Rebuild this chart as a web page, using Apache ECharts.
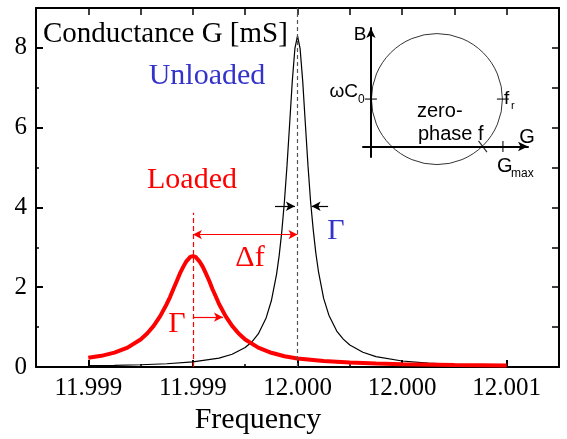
<!DOCTYPE html>
<html>
<head>
<meta charset="utf-8">
<script src="https://cdn.jsdelivr.net/npm/echarts@6/dist/echarts.min.js"></script>
<style>
html, body { margin: 0; padding: 0; background: #fff; }
#chart { width: 567px; height: 439px; }
</style>
</head>
<body>
<div id="chart"></div>
<script>
// axis ticks
const majorFreqTicks = [11.9990, 11.9994, 11.9998, 12.0002, 12.0006];
const minorFreqTicks = [11.9992, 11.9996, 12.0000, 12.0004];
const majorGTicks = [0, 2, 4, 6, 8];
const minorGTicks = [1, 3, 5, 7];
const allGTicks = [1, 2, 3, 4, 5, 6, 7, 8];

// unloaded resonance (thin black)
const unloadedFreq = [11.9990, 11.9991, 11.9992, 11.9993, 11.9994, 11.9995, 11.99955, 11.9996, 11.999625,
    11.99965, 11.99968, 11.9997, 11.99972, 11.99973, 11.99974, 11.99975, 11.99976, 11.99977, 11.99978,
    11.99979, 11.9998, 11.99981, 11.99982, 11.99983, 11.99984, 11.99985, 11.99986, 11.99987, 11.99988,
    11.9999, 11.99992, 11.99995, 11.999975, 12.0000, 12.00005, 12.0001, 12.0002, 12.0003, 12.0004, 12.0005, 12.0006];
const unloadedG = [0.032, 0.042, 0.057, 0.082, 0.128, 0.224, 0.319, 0.488, 0.626,
    0.83, 1.23, 1.66, 2.33, 2.80, 3.40, 4.15, 5.06, 6.10, 7.16,
    7.98, 8.30, 7.98, 7.16, 6.10, 5.06, 4.15, 3.45, 2.86, 2.40,
    1.72, 1.30, 0.90, 0.70, 0.55, 0.37, 0.26, 0.15, 0.095, 0.065, 0.048, 0.037];

// loaded resonance (thick red)
const loadedFreq = [11.9990, 11.99905, 11.9991, 11.99915, 11.9992, 11.999225, 11.99925, 11.999275, 11.9993,
    11.999313, 11.999325, 11.999338, 11.99935, 11.999363, 11.999375, 11.99939, 11.9994, 11.99941, 11.999425,
    11.999438, 11.99945, 11.999463, 11.999475, 11.999488, 11.9995, 11.999525, 11.99955, 11.999575, 11.9996,
    11.99965, 11.9997, 11.99975, 11.9998, 11.9999, 12.0000, 12.0001, 12.0002, 12.0004, 12.0006];
const loadedG = [0.23, 0.28, 0.36, 0.485, 0.69, 0.84, 1.03, 1.275, 1.58,
    1.76, 1.95, 2.15, 2.34, 2.51, 2.65, 2.76, 2.78, 2.76, 2.65,
    2.51, 2.34, 2.15, 1.95, 1.76, 1.58, 1.275, 1.03, 0.84, 0.69,
    0.485, 0.356, 0.271, 0.215, 0.15, 0.11, 0.085, 0.07, 0.05, 0.04];

// annotation positions in data units
const unloadedPeak = 11.9998;
const loadedPeak = 11.9994;
const loadedMarkTop = 3.87;
const deltaFLevel = 3.32;
const loadedGammaLevel = 1.25;
const loadedGammaEnd = 11.999515;
const unloadedGammaLevel = 4.03;
const unloadedGammaLeft = [11.999714, 11.99979];
const unloadedGammaRight = [11.999917, 11.999854];

// inset: admittance circle
const insetCenter = [0.5, 0.36];
const omegaC0 = 0.36;
const gMax = 1.0;
const zeroPhaseG = 0.847;

const serif = '"Liberation Serif", "Times New Roman", serif';
const sans = '"Liberation Sans", Arial, sans-serif';
const red = '#ff0000';
const blue = '#3333cc';

const chart = echarts.init(document.getElementById('chart'));

const frameLine = { show: true, onZero: false, lineStyle: { color: '#000', width: 2 } };

const option = {
    animation: false,
    grid: [
        { left: 36, right: 8, top: 8, bottom: 72 },
        { left: 363, right: 39, top: 28, bottom: 282 }
    ],
    xAxis: [
        {
            gridIndex: 0, type: 'value', position: 'bottom', min: 11.9988, max: 12.0008,
            axisLine: frameLine,
            axisTick: { inside: true, length: 7, customValues: majorFreqTicks, lineStyle: { color: '#000', width: 2 } },
            axisLabel: {
                customValues: majorFreqTicks, margin: 9, color: '#000', fontFamily: serif, fontSize: 25,
                formatter: function (v) { return v.toFixed(3); }
            },
            splitLine: { show: false }
        },
        {
            gridIndex: 0, type: 'value', position: 'bottom', min: 11.9988, max: 12.0008,
            axisLine: { show: false },
            axisTick: { inside: true, length: 3, customValues: minorFreqTicks, lineStyle: { color: '#000', width: 1.5 } },
            axisLabel: { show: false },
            splitLine: { show: false }
        },
        {
            gridIndex: 0, type: 'value', position: 'top', min: 11.9988, max: 12.0008,
            axisLine: frameLine,
            axisTick: { inside: true, length: 7, customValues: majorFreqTicks.concat(minorFreqTicks), lineStyle: { color: '#000', width: 1.5 } },
            axisLabel: { show: false },
            splitLine: { show: false }
        },
        {
            gridIndex: 1, type: 'value', min: -0.06, max: 1.19,
            axisLine: { show: true, onZero: true, symbol: ['none', 'arrow'], symbolSize: [7, 10], lineStyle: { color: '#000', width: 2 } },
            axisTick: { show: false }, axisLabel: { show: false }, splitLine: { show: false }
        }
    ],
    yAxis: [
        {
            gridIndex: 0, type: 'value', position: 'left', min: 0, max: 9,
            axisLine: frameLine,
            axisTick: { inside: true, length: 7, customValues: majorGTicks, lineStyle: { color: '#000', width: 2 } },
            axisLabel: { customValues: majorGTicks, margin: 9, color: '#000', fontFamily: serif, fontSize: 25 },
            splitLine: { show: false }
        },
        {
            gridIndex: 0, type: 'value', position: 'left', min: 0, max: 9,
            axisLine: { show: false },
            axisTick: { inside: true, length: 3, customValues: minorGTicks, lineStyle: { color: '#000', width: 1.5 } },
            axisLabel: { show: false },
            splitLine: { show: false }
        },
        {
            gridIndex: 0, type: 'value', position: 'right', min: 0, max: 9,
            axisLine: frameLine,
            axisTick: { inside: true, length: 7, customValues: allGTicks, lineStyle: { color: '#000', width: 1.5 } },
            axisLabel: { show: false },
            splitLine: { show: false }
        },
        {
            gridIndex: 1, type: 'value', min: -0.08, max: 0.9,
            axisLine: { show: true, onZero: true, symbol: ['none', 'arrow'], symbolSize: [7, 10], lineStyle: { color: '#000', width: 2 } },
            axisTick: { show: false }, axisLabel: { show: false }, splitLine: { show: false }
        }
    ],
    series: [
        {
            name: 'Unloaded', type: 'line', xAxisIndex: 0, yAxisIndex: 0,
            data: unloadedFreq.map((f, i) => [f, unloadedG[i]]),
            showSymbol: false, clip: false,
            lineStyle: { color: '#000', width: 1.2 },
            markLine: {
                silent: true, symbol: 'none', symbolSize: [7, 9], label: { show: false },
                data: [
                    [
                        { coord: [unloadedPeak, 0], lineStyle: { color: '#555', width: 1.2, type: [4, 3] } },
                        { coord: [unloadedPeak, 9] }
                    ],
                    [
                        { coord: [unloadedGammaLeft[0], unloadedGammaLevel], symbol: 'none', lineStyle: { color: '#000', width: 1.2, type: 'solid' } },
                        { coord: [unloadedGammaLeft[1], unloadedGammaLevel], symbol: 'arrow' }
                    ],
                    [
                        { coord: [unloadedGammaRight[0], unloadedGammaLevel], symbol: 'none', lineStyle: { color: '#000', width: 1.2, type: 'solid' } },
                        { coord: [unloadedGammaRight[1], unloadedGammaLevel], symbol: 'arrow' }
                    ]
                ]
            }
        },
        {
            name: 'Loaded', type: 'line', xAxisIndex: 0, yAxisIndex: 0,
            data: loadedFreq.map((f, i) => [f, loadedG[i]]),
            showSymbol: false, clip: false, z: 3,
            lineStyle: { color: red, width: 4 },
            markLine: {
                silent: true, symbol: 'none', symbolSize: [7, 9], label: { show: false },
                data: [
                    [
                        { coord: [loadedPeak, 0], lineStyle: { color: red, width: 1.2, type: [5, 3] } },
                        { coord: [loadedPeak, loadedMarkTop] }
                    ],
                    [
                        { coord: [loadedPeak, deltaFLevel], symbol: 'arrow', lineStyle: { color: red, width: 1.2, type: 'solid' } },
                        { coord: [unloadedPeak, deltaFLevel], symbol: 'arrow' }
                    ],
                    [
                        { coord: [loadedPeak, loadedGammaLevel], symbol: 'none', lineStyle: { color: red, width: 1.2, type: 'solid' } },
                        { coord: [loadedGammaEnd, loadedGammaLevel], symbol: 'arrow' }
                    ]
                ]
            }
        },
        {
            type: 'scatter', xAxisIndex: 3, yAxisIndex: 3, silent: true,
            data: [insetCenter], symbol: 'circle', symbolSize: 131,
            itemStyle: { color: 'rgba(0,0,0,0)', borderColor: '#000', borderWidth: 1 }
        },
        {
            type: 'scatter', xAxisIndex: 3, yAxisIndex: 3, silent: true,
            data: [
                { value: [0, omegaC0], symbolSize: [12, 1.3] },
                { value: [gMax, omegaC0], symbolSize: [12, 1.3] },
                { value: [gMax, 0], symbolSize: [1.3, 11] },
                { value: [zeroPhaseG, 0], symbolSize: [14, 1.3], symbolRotate: -53 }
            ],
            symbol: 'rect',
            itemStyle: { color: '#000' }
        }
    ],
    graphic: [
        { type: 'text', x: 43, y: 34, style: { text: 'Conductance G [mS]', font: '29px ' + serif, fill: '#000', align: 'left', verticalAlign: 'middle' } },
        { type: 'text', x: 207, y: 76, style: { text: 'Unloaded', font: '30px ' + serif, fill: blue, align: 'center', verticalAlign: 'middle' } },
        { type: 'text', x: 192, y: 180, style: { text: 'Loaded', font: '30px ' + serif, fill: red, align: 'center', verticalAlign: 'middle' } },
        { type: 'text', x: 250, y: 258, style: { text: 'Δf', font: '30px ' + serif, fill: red, align: 'center', verticalAlign: 'middle' } },
        { type: 'text', x: 177, y: 324, style: { text: 'Γ', font: '30px ' + serif, fill: red, align: 'center', verticalAlign: 'middle' } },
        { type: 'text', x: 336, y: 231, style: { text: 'Γ', font: '30px ' + serif, fill: blue, align: 'center', verticalAlign: 'middle' } },
        { type: 'text', x: 258, y: 420, style: { text: 'Frequency', font: '30px ' + serif, fill: '#000', align: 'center', verticalAlign: 'middle' } },
        { type: 'text', x: 360, y: 35, style: { text: 'B', font: '19px ' + sans, fill: '#000', align: 'center', verticalAlign: 'middle' } },
        { type: 'text', x: 527, y: 137, style: { text: 'G', font: '20px ' + sans, fill: '#000', align: 'center', verticalAlign: 'middle' } },
        { type: 'text', x: 358, y: 92, style: { text: 'ωC', font: '19px ' + sans, fill: '#000', align: 'right', verticalAlign: 'middle' } },
        { type: 'text', x: 358, y: 100, style: { text: '0', font: '12px ' + sans, fill: '#000', align: 'left', verticalAlign: 'middle' } },
        { type: 'text', x: 504, y: 99, style: { text: 'f', font: '19px ' + sans, fill: '#000', align: 'left', verticalAlign: 'middle' } },
        { type: 'text', x: 511, y: 106, style: { text: 'r', font: '11px ' + sans, fill: '#000', align: 'left', verticalAlign: 'middle' } },
        { type: 'text', x: 497, y: 166, style: { text: 'G', font: '20px ' + sans, fill: '#000', align: 'left', verticalAlign: 'middle' } },
        { type: 'text', x: 511, y: 174, style: { text: 'max', font: '12px ' + sans, fill: '#000', align: 'left', verticalAlign: 'middle' } },
        { type: 'text', x: 417, y: 111, style: { text: 'zero-', font: '20px ' + sans, fill: '#000', align: 'left', verticalAlign: 'middle' } },
        { type: 'text', x: 418, y: 134, style: { text: 'phase f', font: '20px ' + sans, fill: '#000', align: 'left', verticalAlign: 'middle' } }
    ]
};

chart.setOption(option);
</script>
</body>
</html>
